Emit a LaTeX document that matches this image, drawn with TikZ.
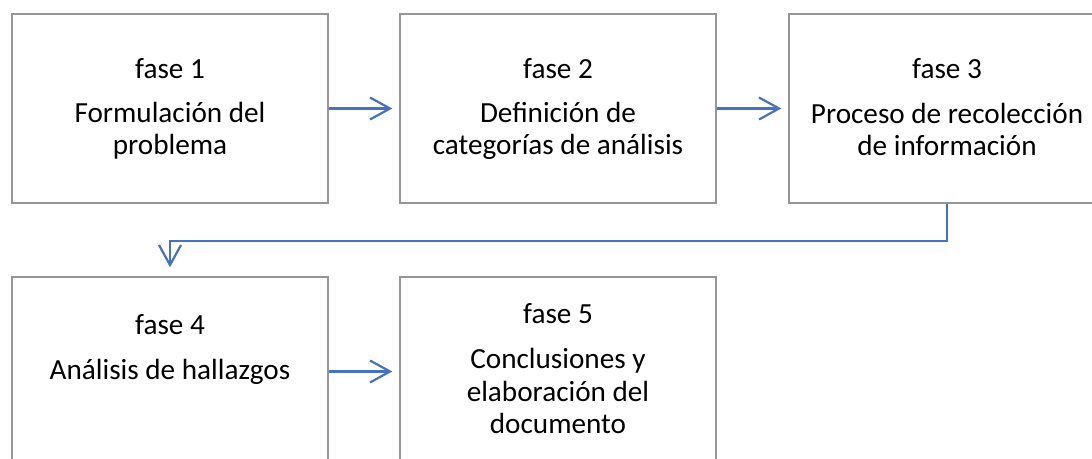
\documentclass[tikz,border=0pt]{standalone}
\usepackage{fontspec}
\setmainfont{Carlito}
\usetikzlibrary{arrows.meta}

\definecolor{fasegray}{RGB}{150,150,150}
\definecolor{faseblue}{RGB}{68,114,196}

\begin{document}
\begin{tikzpicture}[x=0.5pt,y=-0.5pt,
        fasebox/.style={draw=fasegray,line width=0.7pt,rectangle,inner sep=0pt,
            minimum width=158pt,minimum height=94.5pt},
        fasetxt/.style={anchor=base,align=center,inner sep=0pt,
            font=\fontsize{14.6}{16.3}\selectfont},
        link/.style={draw=faseblue,line width=1.1pt,
            -{Straight Barb[length=10pt,width=11pt,line width=1.1pt]}}]
            \useasboundingbox (0,0) rectangle (1092,459);
            \clip (0,0) rectangle (1092,459);

            % boxes
            \node[fasebox] (f1) at (170,108.5) {};
            \node[fasebox] (f2) at (558,108.5) {};
            \node[fasebox] (f3) at (947,108.5) {};
            \node[fasebox] (f4) at (170,371.5) {};
            \node[fasebox] (f5) at (558,371.5) {};

            % texts (base = last line)
            \node[fasetxt] (t1a) at (170,79) {fase 1};
            \node[fasetxt] (t1b) at (170,155) {Formulación del\\problema};
            \node[fasetxt] (t2a) at (558,79) {fase 2};
            \node[fasetxt] (t2b) at (558,155) {Definición de\\categorías de análisis};
            \node[fasetxt] (t3a) at (947,79) {fase 3};
            \node[fasetxt] (t3b) at (947,156) {Proceso de recolección\\de información};
            \node[fasetxt] (t4a) at (170,335) {fase 4};
            \node[fasetxt] (t4b) at (170,380) {Análisis de hallazgos};
            \node[fasetxt] (t5a) at (558,324) {fase 5};
            \node[fasetxt] (t5b) at (558,434) {Conclusiones y\\elaboración del\\documento};

            % arrows
            \draw[link,shorten >=3.5pt] (f1.east) -- (f2.west);
            \draw[link,shorten >=3.5pt] (f2.east) -- (f3.west);
            \draw[link,shorten >=4.5pt] (f3.south) -- ++(0,37) -| (f4.north);
            \draw[link,shorten >=3.5pt] (f4.east) -- (f5.west);
\end{tikzpicture}
\end{document}
